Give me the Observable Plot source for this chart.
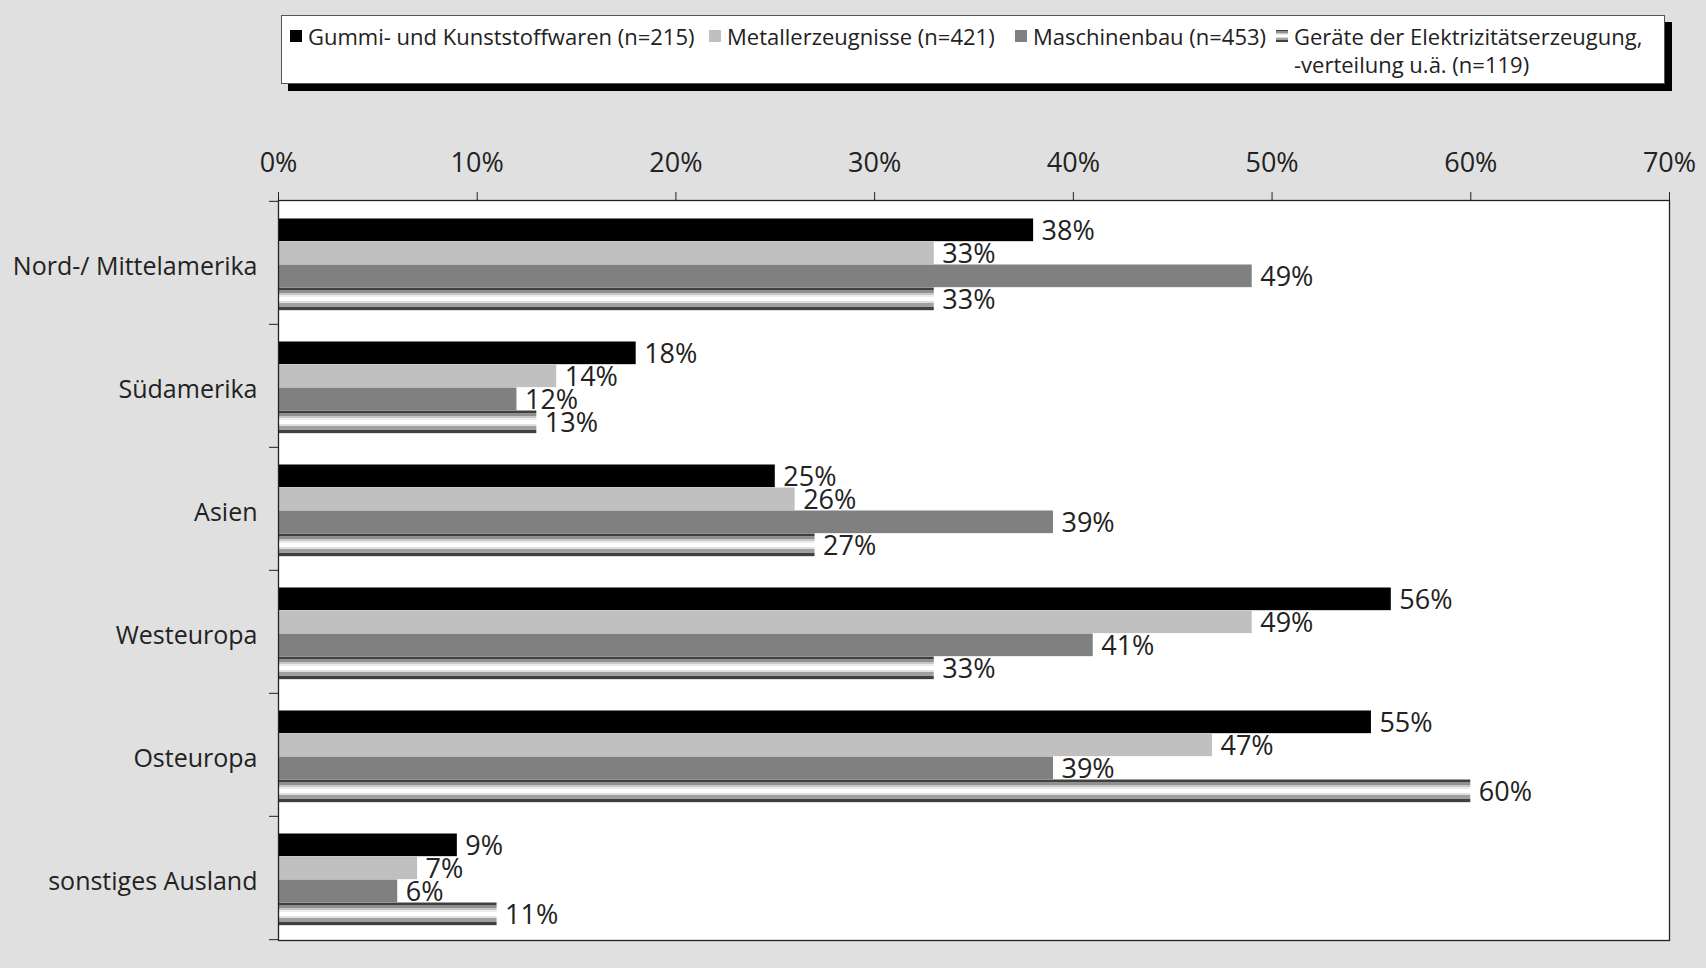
<!DOCTYPE html>
<html><head><meta charset="utf-8">
<script src="https://cdn.jsdelivr.net/npm/d3@7"></script>
<script src="https://cdn.jsdelivr.net/npm/@observablehq/plot@0.6"></script>
<style>
html,body{margin:0;padding:0;background:#e0e0e0;}
#wrap{width:1706px;height:968px;background:#e0e0e0;font-family:"Open Sans",sans-serif;color:#222;position:relative;overflow:hidden}
#legend{position:relative;height:100px}
#lbox{position:absolute;left:281px;top:15px;width:1384px;height:69px;background:#fff;border:1px solid #555;box-shadow:7px 7px 0 #000;box-sizing:border-box}
.item{position:absolute;top:6px;font-size:22px;line-height:28px;display:flex;align-items:flex-start;white-space:pre}
.sw{width:12px;height:12px;margin-top:8px;margin-right:6px;flex:none}
#chart svg{display:block;max-width:none}
</style></head>
<body><div id="wrap"><div id="legend"><div id="lbox"></div></div><div id="chart"></div></div>
<script>
const categories = ["Nord-/ Mittelamerika","Südamerika","Asien","Westeuropa","Osteuropa","sonstiges Ausland"];
const seriesNames = ["Gummi- und Kunststoffwaren (n=215)","Metallerzeugnisse (n=421)","Maschinenbau (n=453)","Geräte der Elektrizitätserzeugung,\n-verteilung u.ä. (n=119)"];
const gummi = [38,18,25,56,55,9];
const metall = [33,14,26,49,47,7];
const maschinen = [49,12,39,41,39,6];
const geraete = [33,13,27,33,60,11];
const xTicks = [0,10,20,30,40,50,60,70];
const fills = ["#000000","#c0c0c0","#808080","url(#stripe)"];
const legendLeft = [8,427,733,994];

const stripeStops = [[0,"#404040"],[0.09,"#404040"],[0.09,"#909090"],[0.25,"#909090"],[0.25,"#c8c8c8"],[0.35,"#c8c8c8"],[0.35,"#ececec"],[0.42,"#ececec"],[0.42,"#ffffff"],[0.6,"#ffffff"],[0.6,"#e0e0e0"],[0.68,"#e0e0e0"],[0.68,"#a0a0a0"],[0.86,"#a0a0a0"],[0.86,"#404040"],[1,"#404040"]];
const cssStripe = "linear-gradient(to bottom," + stripeStops.map(([o,c]) => `${c} ${o*100}%`).join(",") + ")";

// legend
const lbox = document.getElementById("lbox");
seriesNames.forEach((name, i) => {
  const it = document.createElement("div");
  it.className = "item";
  it.style.left = legendLeft[i] + "px";
  const sw = document.createElement("div");
  sw.className = "sw";
  sw.style.background = i === 3 ? cssStripe : fills[i];
  const tx = document.createElement("div");
  tx.textContent = name;
  it.appendChild(sw); it.appendChild(tx);
  lbox.appendChild(it);
});

const seriesValues = [gummi, metall, maschinen, geraete];
const W = 1706, H = 868, mt = 100, mb = 28, ml = 278, mr = 37;
const bw = (H - mt - mb) / categories.length;
const off = 17.5, bh = 23;

const marks = [Plot.frame({fill: "white"})];
seriesValues.forEach((vals, i) => {
  const data = categories.map((c, j) => ({cat: c, value: vals[j]}));
  marks.push(Plot.barX(data, {x: "value", y: "cat", fill: fills[i],
    insetTop: off + bh * i, insetBottom: bw - off - bh * (i + 1)}));
});
seriesValues.forEach((vals, i) => {
  const data = categories.map((c, j) => ({cat: c, value: vals[j]}));
  marks.push(Plot.text(data, {x: "value", y: "cat", text: d => d.value + "%",
    dx: 8, dy: off + bh * i + bh / 2 - bw / 2 + 1, textAnchor: "start", fontSize: 27, fill: "#222"}));
});
marks.push(Plot.frame({stroke: "#222", strokeWidth: 1.3}));
marks.push(Plot.axisX(xTicks, {anchor: "top", tickSize: 9, tickPadding: 20, tickFormat: d => d + "%", fontSize: 27, label: null}));
marks.push(Plot.axisY({anchor: "left", tickSize: 0, tickPadding: 21, fontSize: 25, dy: 4, label: null}));
marks.push(Plot.axisY({anchor: "left", tickSize: 9, tickFormat: () => "", dy: -bw / 2, label: null}));
marks.push(Plot.axisY([categories[categories.length - 1]], {anchor: "left", tickSize: 9, tickFormat: () => "", dy: bw / 2, label: null}));

const svg = Plot.plot({
  width: W, height: H,
  marginTop: mt, marginBottom: mb, marginLeft: ml, marginRight: mr,
  x: {domain: [0, 70]},
  y: {domain: categories, padding: 0},
  style: {fontFamily: "Open Sans", fontSize: "25px", background: "transparent", color: "#222", maxWidth: "none"},
  marks
});

const ns = "http://www.w3.org/2000/svg";
const defs = document.createElementNS(ns, "defs");
const grad = document.createElementNS(ns, "linearGradient");
grad.setAttribute("id", "stripe");
grad.setAttribute("x1", "0"); grad.setAttribute("y1", "0");
grad.setAttribute("x2", "0"); grad.setAttribute("y2", "1");
stripeStops.forEach(([o, c]) => {
  const s = document.createElementNS(ns, "stop");
  s.setAttribute("offset", o);
  s.setAttribute("stop-color", c);
  grad.appendChild(s);
});
defs.appendChild(grad);
svg.insertBefore(defs, svg.firstChild);
document.getElementById("chart").appendChild(svg);
</script>
</body></html>
